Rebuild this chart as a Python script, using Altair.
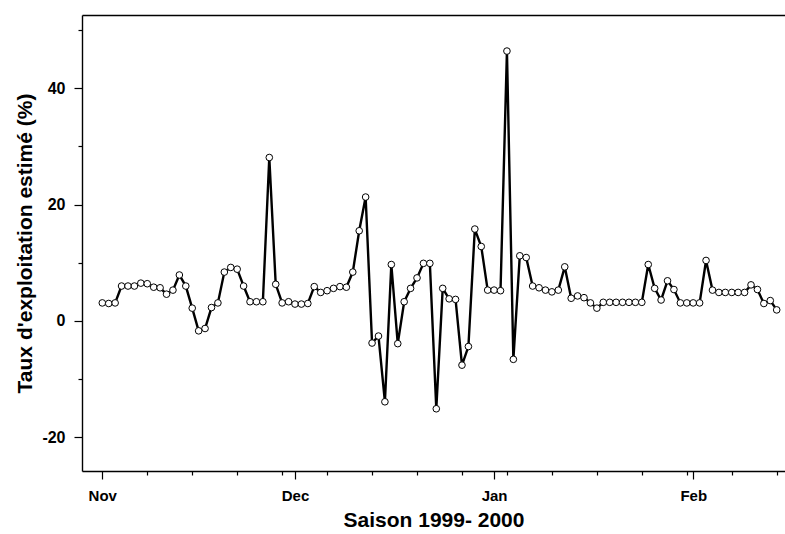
import altair as alt
import pandas as pd

# Daily estimated exploitation rate, 1 Nov 1999 -> 14 Feb 2000
start_date = "1999-11-01"
values = [
    3.1, 3.0, 3.1, 6.0, 6.0, 6.0, 6.5, 6.4, 5.8, 5.7,
    4.6, 5.3, 7.9, 6.0, 2.2, -1.7, -1.3, 2.3, 3.1, 8.4,
    9.2, 8.9, 6.0, 3.3, 3.3, 3.3, 28.1, 6.3, 3.1, 3.3,
    2.9, 2.9, 3.0, 5.9, 4.9, 5.2, 5.6, 5.9, 5.8, 8.4,
    15.5, 21.3, -3.8, -2.6, -13.9, 9.7, -3.9, 3.3, 5.6, 7.4,
    9.9, 9.9, -15.1, 5.6, 3.8, 3.7, -7.6, -4.4, 15.8, 12.8,
    5.3, 5.3, 5.2, 46.4, -6.6, 11.2, 10.9, 6.0, 5.7, 5.3,
    5.0, 5.3, 9.3, 3.9, 4.3, 4.0, 3.1, 2.2, 3.2, 3.2,
    3.2, 3.2, 3.2, 3.2, 3.2, 9.7, 5.6, 3.6, 6.9, 5.4,
    3.1, 3.1, 3.1, 3.1, 10.4, 5.3, 4.9, 4.9, 4.9, 4.9,
    4.9, 6.2, 5.4, 3.0, 3.5, 1.9,
]
month_ticks = [(1999, 11, 1), (1999, 12, 1), (2000, 1, 1), (2000, 2, 1)]
week_ticks = [(1999, 11, 8), (1999, 11, 15), (1999, 11, 22), (1999, 11, 29),
              (1999, 12, 6), (1999, 12, 13), (1999, 12, 20), (1999, 12, 27),
              (2000, 1, 3), (2000, 1, 10), (2000, 1, 17), (2000, 1, 24),
              (2000, 1, 31), (2000, 2, 7), (2000, 2, 14)]
y_major = [-20, 0, 20, 40]
y_minor = [-10, 10, 30, 50]
x_title = "Saison 1999- 2000"
y_title = "Taux d'exploitation estimé (%)"

df = pd.DataFrame({
    "date": pd.date_range(start_date, periods=len(values), freq="D"),
    "value": values,
})

def dt(t, h=0, m=0):
    return alt.DateTime(year=t[0], month=t[1], date=t[2], hours=h, minutes=m)

x_dom = [dt((1999, 10, 28), 20, 10), dt((2000, 2, 15), 7, 0)]
y_dom = [-25.8, 52.6]
xs = alt.Scale(domain=x_dom)
ys = alt.Scale(domain=y_dom, nice=False, zero=False)

base = alt.Chart(df)

line = base.mark_line(color="black", strokeWidth=2.4).encode(
    x=alt.X("date:T", scale=xs, axis=alt.Axis(
        orient="bottom", values=[dt(t) for t in month_ticks], format="%b",
        tickSize=8, labelPadding=9, grid=False, domain=True,
        title=x_title, titlePadding=6, labelFontSize=15)),
    y=alt.Y("value:Q", scale=ys, axis=alt.Axis(
        orient="left", values=y_major, labelExpr="'' + datum.value",
        tickSize=8, labelPadding=9, grid=False, domain=True,
        title=y_title, titlePadding=6, labelFontSize=16)),
)

points = base.mark_point(shape="circle", filled=True, fill="white", stroke="black",
                         strokeWidth=1, size=44, opacity=1).encode(
    x=alt.X("date:T", scale=xs, axis=alt.Axis(
        orient="bottom", values=[dt(t) for t in week_ticks], tickSize=4,
        labels=False, domain=False, grid=False, title="")),
    y=alt.Y("value:Q", scale=ys, axis=alt.Axis(
        orient="left", values=y_minor, tickSize=4, labels=False,
        domain=False, grid=False, title="")),
)

frame_top = base.mark_point(opacity=0).encode(
    x=alt.X("date:T", scale=xs, axis=alt.Axis(
        orient="top", ticks=False, labels=False, domain=True, grid=False, title="")),
    y=alt.Y("value:Q", scale=ys, axis=None),
)

chart = alt.layer(line, points, frame_top).resolve_axis(
    x="independent", y="independent"
).properties(
    width=703, height=456,
    autosize=alt.AutoSizeParams(type="none"),
    padding={"left": 82, "top": 15, "right": 0, "bottom": 63},
).configure_view(stroke="transparent").configure_axis(
    domainColor="black", tickColor="black", labelColor="black", titleColor="black",
    domainWidth=1.4, tickWidth=1.2,
    labelFont="Liberation Sans", labelFontWeight="bold",
    titleFont="Liberation Sans", titleFontWeight="bold", titleFontSize=21,
)

chart.save("out.html", embed_options={"renderer": "svg", "actions": False})
